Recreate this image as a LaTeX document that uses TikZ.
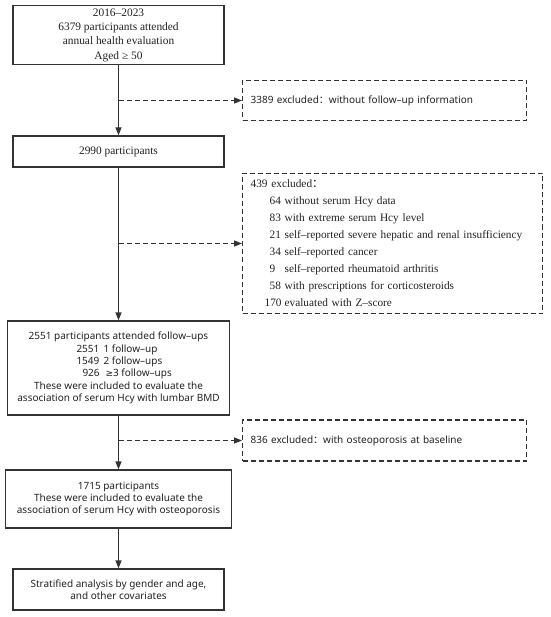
\documentclass[tikz,border=0pt]{standalone}
\usepackage{fontspec}
\setmainfont{Liberation Serif}
\newfontfamily\sansf{Noto Sans}
\newfontfamily\dejavu{DejaVu Sans}
\newfontfamily\cjk{Noto Sans CJK SC}
\usetikzlibrary{arrows.meta}
\definecolor{ln}{HTML}{333333}
\definecolor{tx}{HTML}{222222}
\tikzset{
  mainbox/.style={draw=ln, line width=1.3pt, text=tx, align=center, inner sep=0pt},
  exbox/.style={draw=ln, line width=1.3pt, dash pattern=on 5pt off 3pt, text=tx, align=left, inner xsep=8pt, inner ysep=0pt, anchor=west},
  serif/.style={font=\fontsize{11.4}{14.3}\selectfont},
  serifex/.style={font=\fontsize{11.3}{17}\selectfont},
  sans/.style={font=\sansf\fontsize{10}{12.4}\selectfont},
  flow/.style={draw=ln, line width=1.3pt, -{Triangle[length=8pt,width=6pt]}},
  exflow/.style={draw=ln, line width=1.3pt, dash pattern=on 5pt off 3pt, -{Triangle[length=8pt,width=6pt]}}
}
\begin{document}
\begin{tikzpicture}[x=1pt,y=-1pt]
\useasboundingbox (0,0) rectangle (550,617);
\node[mainbox, serif, minimum width=211pt, minimum height=59pt] (b1) at (118.5,35)
  {2016–2023\\6379 participants attended\\annual health evaluation\\Aged ≥ 50};
\node[mainbox, serif, minimum width=211pt, minimum height=31pt] (b2) at (118.5,151.5)
  {2990 participants};
\node[mainbox, sans, minimum width=222pt, minimum height=94pt] (b3) at (118.5,368)
  {2551 participants attended follow–ups\\
   \makebox[84pt][l]{\makebox[27pt][l]{2551}1 follow–up}\\
   \makebox[84pt][l]{\makebox[27pt][l]{1549}2 follow–ups}\\
   \makebox[84pt][l]{\hspace*{6pt}\makebox[23pt][l]{926}{\dejavu\fontsize{9}{12}\selectfont ≥}3 follow–ups}\\
   These were included to evaluate the\\association of serum Hcy with lumbar BMD};
\node[mainbox, sans, minimum width=226pt, minimum height=58pt] (b4) at (118.5,499)
  {1715 participants\\These were included to evaluate the\\association of serum Hcy with osteoporosis};
\node[mainbox, sans, minimum width=211pt, minimum height=41pt] (b5) at (118.5,589.5)
  {Stratified analysis by gender and age,\\and other covariates};
\node[exbox, sans, minimum width=284pt, minimum height=40pt, text width=268pt] (e1) at (242,100.5)
  {3389 excluded{\cjk ：}without follow–up information};
\node[exbox, serifex, minimum width=300pt, minimum height=140pt, text width=284pt] (e2) at (242,243.5)
  {439 excluded{\cjk ：}\\
   \hspace*{19pt}\makebox[15pt][l]{64}without serum Hcy data\\
   \hspace*{19pt}\makebox[15pt][l]{83}with extreme serum Hcy level\\
   \hspace*{19pt}\makebox[15pt][l]{21}self–reported severe hepatic and renal insufficiency\\
   \hspace*{19pt}\makebox[15pt][l]{34}self–reported cancer\\
   \hspace*{19pt}\makebox[15pt][l]{9}self–reported rheumatoid arthritis\\
   \hspace*{19pt}\makebox[15pt][l]{58}with prescriptions for corticosteroids\\
   \hspace*{14pt}\makebox[20pt][l]{170}evaluated with Z–score};
\node[exbox, sans, minimum width=284pt, minimum height=41pt, text width=268pt] (e3) at (242,440.5)
  {836 excluded{\cjk ：}with osteoporosis at baseline};
\path[flow] (b1.south) -- (b2.north);
\path[flow] (b2.south) -- (b3.north);
\path[flow] (b3.south) -- (b4.north);
\path[flow] (b4.south) -- (b5.north);
\coordinate (s1) at (e1.west -| b3.north);
\coordinate (s2) at (e2.west -| b3.north);
\coordinate (s3) at (e3.west -| b3.north);
\path[exflow] (s1) -- (e1.west);
\path[exflow] (s2) -- (e2.west);
\path[exflow] (s3) -- (e3.west);
\end{tikzpicture}
\end{document}
